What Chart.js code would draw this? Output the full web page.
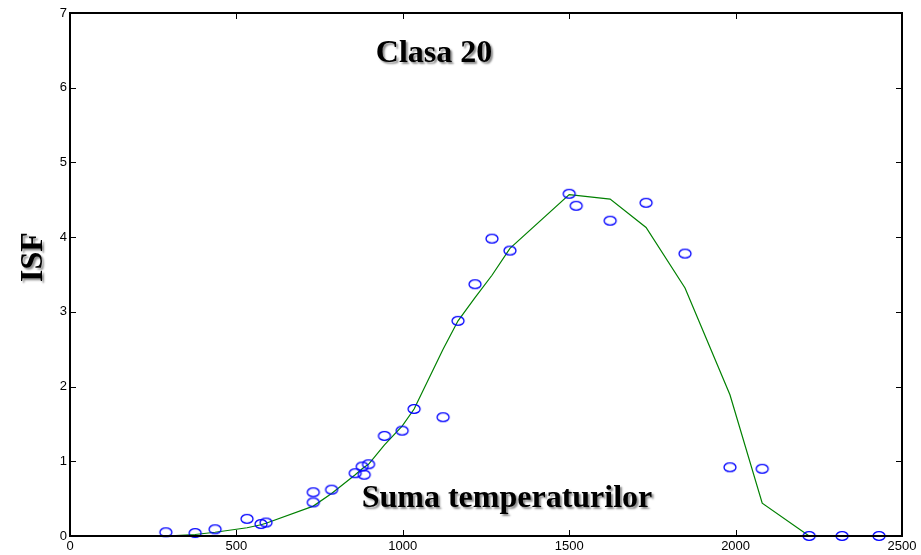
<!DOCTYPE html>
<html>
<head>
<meta charset="utf-8">
<script src="https://cdn.jsdelivr.net/npm/chart.js@4.4.0/dist/chart.umd.min.js"></script>
<style>
    html, body { margin: 0; padding: 0; background: #fff; }
    #wrap { width: 921px; height: 555px; position: relative; }
</style>
</head>
<body>
<div id="wrap"><canvas id="isf-chart" width="921" height="555"></canvas></div>
<script>
// Observed values (blue circles)
const sumaTemp = [288, 376, 436, 532, 574, 589, 731, 731, 786, 857, 878, 884, 897, 945, 998, 1034,
    1121, 1166, 1217, 1268, 1322, 1500, 1521, 1623, 1731, 1848, 1983, 2080, 2221, 2320, 2431];
const isfObs = [0.05, 0.04, 0.09, 0.23, 0.16, 0.18, 0.45, 0.585, 0.62, 0.84, 0.93, 0.82, 0.96, 1.34, 1.41, 1.70,
    1.59, 2.88, 3.37, 3.98, 3.82, 4.58, 4.42, 4.22, 4.46, 3.78, 0.92, 0.90, 0, 0, 0];

// Fitted curve (green line)
const fitX = [288, 376, 436, 532, 574, 589, 731, 786, 857, 878, 884, 897, 945, 998, 1034,
    1121, 1166, 1217, 1268, 1322, 1500, 1521, 1623, 1731, 1848, 1983, 2080, 2221, 2320, 2431];
const fitY = [0, 0.02, 0.05, 0.11, 0.15, 0.17, 0.40, 0.57, 0.82, 0.90, 0.92, 0.96, 1.22, 1.47, 1.70,
    2.50, 2.88, 3.19, 3.49, 3.85, 4.57, 4.56, 4.51, 4.13, 3.32, 1.89, 0.44, 0, 0, 0];

const xTicks = [0, 500, 1000, 1500, 2000, 2500];
const yTicks = [0, 1, 2, 3, 4, 5, 6, 7];

const titleText = 'Clasa 20';
const xLabelText = 'Suma temperaturilor';
const yLabelText = 'ISF';

// ellipse marker like matlab 'o'
function ellipseMarker() {
    const c = document.createElement('canvas');
    c.width = 16;
    c.height = 12;
    const g = c.getContext('2d');
    g.strokeStyle = '#0000ff';
    g.lineWidth = 1.3;
    g.beginPath();
    g.ellipse(8, 6, 6, 4.4, 0, 0, Math.PI * 2);
    g.stroke();
    return c;
}

// box + inward ticks on all sides, and the shadowed labels
const matlabBox = {
    id: 'matlabBox',
    afterDraw(chart) {
        const ctx = chart.ctx;
        const a = chart.chartArea;
        const xs = chart.scales.x, ys = chart.scales.y;
        ctx.save();
        ctx.strokeStyle = '#000';
        ctx.lineWidth = 1;
        ctx.beginPath();
        xTicks.forEach(v => {
            const px = Math.round(xs.getPixelForValue(v)) + 0.5;
            ctx.moveTo(px, a.bottom); ctx.lineTo(px, a.bottom - 6);
            ctx.moveTo(px, a.top); ctx.lineTo(px, a.top + 6);
        });
        yTicks.forEach(v => {
            const py = Math.round(ys.getPixelForValue(v)) + 0.5;
            ctx.moveTo(a.left, py); ctx.lineTo(a.left + 6, py);
            ctx.moveTo(a.right, py); ctx.lineTo(a.right - 6, py);
        });
        ctx.stroke();
        ctx.lineWidth = 2;
        ctx.strokeRect(a.left, a.top, a.right - a.left, a.bottom - a.top);

        ctx.font = 'bold 32px "Liberation Serif", "Times New Roman", serif';
        ctx.fillStyle = '#000';
        ctx.shadowColor = 'rgba(0,0,0,0.45)';
        ctx.shadowBlur = 2;
        ctx.shadowOffsetX = 2;
        ctx.shadowOffsetY = 2;
        ctx.textAlign = 'center';
        ctx.textBaseline = 'alphabetic';
        ctx.fillText(titleText, 434, 62);
        ctx.fillText(xLabelText, 507, 507);
        ctx.translate(42, 257);
        ctx.rotate(-Math.PI / 2);
        ctx.fillText(yLabelText, 0, 0);
        ctx.restore();
    }
};

const ctx = document.getElementById('isf-chart').getContext('2d');
const tickFont = { family: '"Liberation Sans", Helvetica, Arial, sans-serif', size: 13 };

new Chart(ctx, {
    type: 'scatter',
    data: {
        datasets: [{
            label: 'observat',
            data: sumaTemp.map((x, i) => ({ x: x, y: isfObs[i] })),
            pointStyle: ellipseMarker(),
            pointRadius: 6,
            clip: false
        }, {
            label: 'model',
            data: fitX.map((x, i) => ({ x: x, y: fitY[i] })),
            showLine: true,
            borderColor: 'rgb(0,128,0)',
            borderWidth: 1.2,
            pointRadius: 0,
            tension: 0
        }]
    },
    options: {
        responsive: false,
        animation: false,
        layout: { padding: { left: 0, top: 13, right: 19, bottom: 0 } },
        plugins: {
            legend: { display: false },
            tooltip: { enabled: false }
        },
        scales: {
            x: {
                type: 'linear',
                min: 0,
                max: 2500,
                afterBuildTicks: s => { s.ticks = xTicks.map(v => ({ value: v })); },
                afterFit: s => { s.height = 19; },
                grid: { display: false, drawTicks: false },
                border: { display: false },
                ticks: { color: '#000', font: tickFont, padding: 3, maxRotation: 0, callback: v => String(v) }
            },
            y: {
                type: 'linear',
                min: 0,
                max: 7,
                afterBuildTicks: s => { s.ticks = yTicks.map(v => ({ value: v })); },
                afterFit: s => { s.width = 70; },
                grid: { display: false, drawTicks: false },
                border: { display: false },
                ticks: { color: '#000', font: tickFont, padding: 3, callback: v => String(v) }
            }
        }
    },
    plugins: [matlabBox]
});
</script>
</body>
</html>
